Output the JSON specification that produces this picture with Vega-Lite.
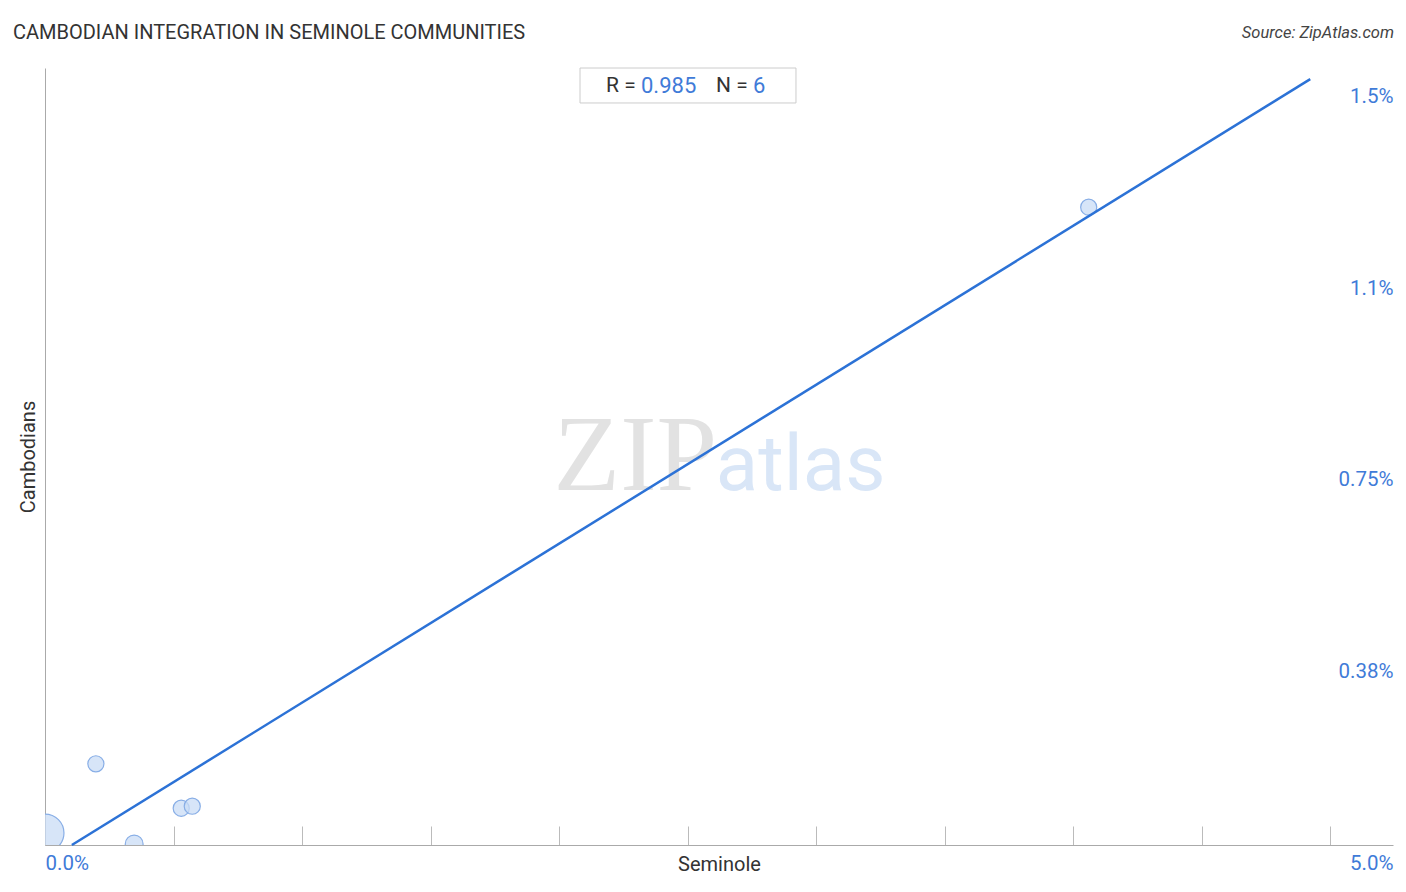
{
  "$schema": "https://vega.github.io/schema/vega-lite/v6.json",
  "width": 1348,
  "height": 777,
  "autosize": {"type": "none"},
  "padding": {"left": 45, "top": 68, "right": 13, "bottom": 47},
  "config": {"view": {"stroke": null}, "font": "Roboto"},
  "datasets": {
    "pts": [
      {"x": 0.0, "y": 0.0235, "pop": 100},
      {"x": 0.198, "y": 0.159, "pop": 18},
      {"x": 0.347, "y": 0.002, "pop": 22},
      {"x": 0.530, "y": 0.072, "pop": 18},
      {"x": 0.573, "y": 0.076, "pop": 18},
      {"x": 4.061, "y": 1.249, "pop": 18}
    ]
  },
  "layer": [
    {
      "data": {"values": [{"t": "ZIP"}]},
      "mark": {"type": "text", "font": "Liberation Serif", "fontSize": 109, "color": "#e2e2e2", "align": "right", "baseline": "alphabetic"},
      "encoding": {
        "text": {"field": "t"},
        "x": {"datum": 2.615, "type": "quantitative"},
        "y": {"datum": 0.695, "type": "quantitative"}
      }
    },
    {
      "data": {"values": [{"t": "atlas"}]},
      "mark": {"type": "text", "font": "Roboto", "fontSize": 78, "color": "#d9e6f7", "align": "left", "baseline": "alphabetic"},
      "encoding": {
        "text": {"field": "t"},
        "x": {"datum": 2.61, "type": "quantitative"},
        "y": {"datum": 0.695, "type": "quantitative"}
      }
    },
    {
      "data": {"name": "pts"},
      "mark": {"type": "circle", "fill": "#c9dcf6", "fillOpacity": 0.75, "stroke": "#88aee6", "strokeWidth": 1.2, "opacity": 1, "clip": true},
      "encoding": {
        "x": {
          "field": "x", "type": "quantitative",
          "scale": {"domain": [0, 5.245], "nice": false, "zero": false},
          "axis": {
            "title": "Seminole",
            "values": [0, 0.5, 1, 1.5, 2, 2.5, 3, 3.5, 4, 4.5, 5, 5.245],
            "grid": false,
            "domainColor": "#aaaaaa",
            "tickColor": "#bbbbbb",
            "tickSize": -19,
            "tickOpacity": {"condition": {"test": "datum.value > 5.1", "value": 0}, "value": 1},
            "encode": {"ticks": {"update": {"y2": {"signal": "(datum.value == 2.5 || datum.value == 5) ? -37 : -19"}}}},
            "labelPadding": 27,
            "labelExpr": "datum.value == 0 ? '0.0%' : datum.value > 5.1 ? '5.0%' : ''",
            "labelFlush": true,
            "labelOverlap": false,
            "labelColor": "#3f7bd8",
            "labelFontSize": 20.5,
            "labelBaseline": "top",
            "titleFontSize": 20,
            "titleFontWeight": "normal",
            "titleColor": "#333333",
            "titleY": 19,
            "titleBaseline": "middle"
          }
        },
        "y": {
          "field": "y", "type": "quantitative",
          "scale": {"domain": [0, 1.5215], "nice": false, "zero": false},
          "axis": {
            "title": "Cambodians",
            "values": [0.375, 0.75, 1.125, 1.5],
            "ticks": false,
            "domainColor": "#aaaaaa",
            "gridColor": "#dddddd",
            "gridDash": [3, 3],
            "labelPadding": -1348,
            "labelAlign": "right",
            "labelBaseline": "middle",
            "labelOffset": 18,
            "labelExpr": "datum.value == 0.375 ? '0.38%' : datum.value == 0.75 ? '0.75%' : datum.value == 1.125 ? '1.1%' : '1.5%'",
            "labelColor": "#3f7bd8",
            "labelFontSize": 20.5,
            "titleFontSize": 20,
            "titleFontWeight": "normal",
            "titleColor": "#333333",
            "titleX": -17,
            "titleBaseline": "middle"
          }
        },
        "size": {"field": "pop", "type": "quantitative", "scale": {"type": "linear", "domain": [0, 100], "range": [0, 1440]}, "legend": null}
      }
    },
    {
      "data": {"name": "pts"},
      "transform": [{"regression": "y", "on": "x", "extent": [0.1045, 4.923]}],
      "mark": {"type": "line", "color": "#2c72d6", "strokeWidth": 2.5},
      "encoding": {
        "x": {"field": "x", "type": "quantitative"},
        "y": {"field": "y", "type": "quantitative"}
      }
    },
    {
      "data": {"values": [{"box": "stats"}]},
      "mark": {"type": "rect", "fill": "#ffffff", "stroke": "#cccccc", "strokeWidth": 1},
      "encoding": {
        "x": {"datum": 2.0817, "type": "quantitative"},
        "x2": {"datum": 2.922},
        "y": {"datum": 1.5215, "type": "quantitative"},
        "y2": {"datum": 1.453}
      }
    },
    {
      "data": {"values": [{"t": "R = "}]},
      "mark": {"type": "text", "fontSize": 21, "color": "#333333", "align": "left", "baseline": "middle"},
      "encoding": {"text": {"field": "t"}, "x": {"datum": 2.183, "type": "quantitative"}, "y": {"datum": 1.486, "type": "quantitative"}}
    },
    {
      "data": {"values": [{"t": "0.985"}]},
      "mark": {"type": "text", "fontSize": 22, "color": "#3f7bd8", "align": "left", "baseline": "middle"},
      "encoding": {"text": {"field": "t"}, "x": {"datum": 2.319, "type": "quantitative"}, "y": {"datum": 1.486, "type": "quantitative"}}
    },
    {
      "data": {"values": [{"t": "N = "}]},
      "mark": {"type": "text", "fontSize": 21, "color": "#333333", "align": "left", "baseline": "middle"},
      "encoding": {"text": {"field": "t"}, "x": {"datum": 2.611, "type": "quantitative"}, "y": {"datum": 1.486, "type": "quantitative"}}
    },
    {
      "data": {"values": [{"t": "6"}]},
      "mark": {"type": "text", "fontSize": 22, "color": "#3f7bd8", "align": "left", "baseline": "middle"},
      "encoding": {"text": {"field": "t"}, "x": {"datum": 2.755, "type": "quantitative"}, "y": {"datum": 1.486, "type": "quantitative"}}
    },
    {
      "data": {"values": [{"t": "CAMBODIAN INTEGRATION IN SEMINOLE COMMUNITIES"}]},
      "mark": {"type": "text", "fontSize": 20, "color": "#333333", "align": "left", "baseline": "middle"},
      "encoding": {"text": {"field": "t"}, "x": {"datum": -0.1245, "type": "quantitative"}, "y": {"datum": 1.590, "type": "quantitative"}}
    },
    {
      "data": {"values": [{"t": "Source: ZipAtlas.com"}]},
      "mark": {"type": "text", "fontSize": 16.5, "fontStyle": "italic", "color": "#444444", "align": "right", "baseline": "middle"},
      "encoding": {"text": {"field": "t"}, "x": {"datum": 5.249, "type": "quantitative"}, "y": {"datum": 1.590, "type": "quantitative"}}
    }
  ]
}
